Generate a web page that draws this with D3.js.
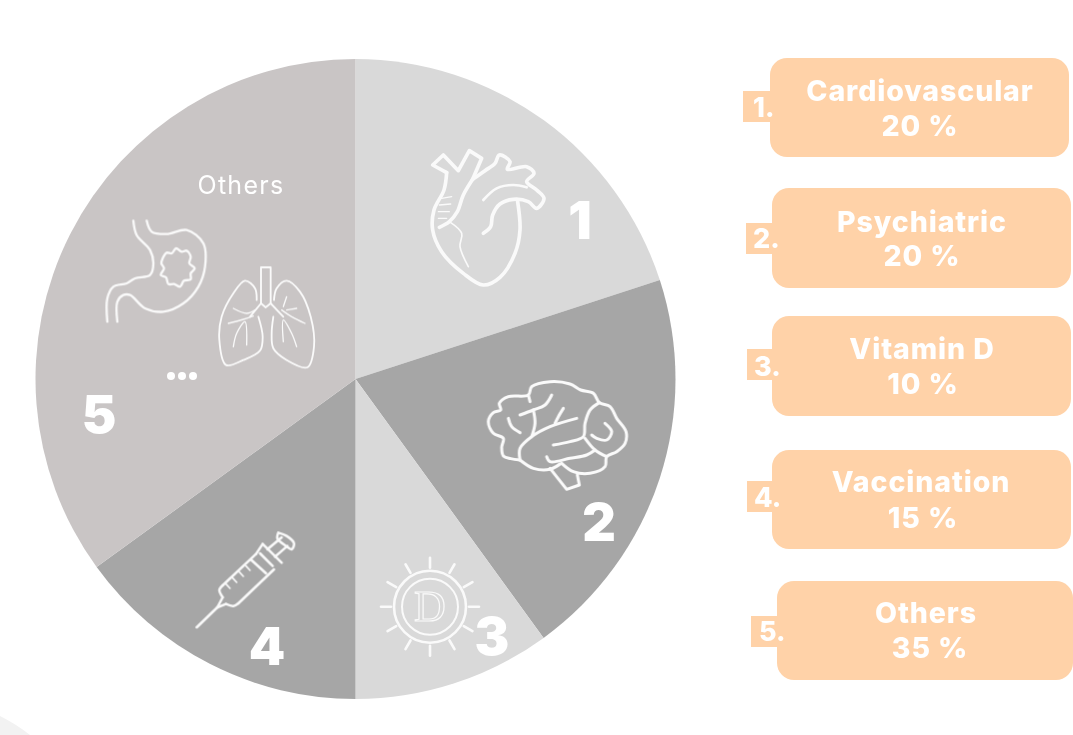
<!DOCTYPE html>
<html><head><meta charset="utf-8">
<script src="https://cdn.jsdelivr.net/npm/d3@7/dist/d3.min.js"></script>
<style>html,body{margin:0;padding:0;background:#fff;overflow:hidden}svg{display:block}</style>
</head><body><svg id="c" width="1073" height="735"></svg>
<script>
const categories = ["Cardiovascular","Psychiatric","Vitamin D","Vaccination","Others"];
const values = [20,20,10,15,35];
const sliceNumbers = ["1","2","3","4","5"];

const W=1073,H=735, cx=355.5, cy=379, R=320;
const svg=d3.select("#c");
const SANS="Inter, 'Open Sans', sans-serif";
const sliceColors=["#d9d9d9","#a6a6a6","#d9d9d9","#a6a6a6","#c9c5c5"];
const peach="#ffd2a8";

svg.append("defs").append("filter").attr("id","soft")
  .attr("x","-5%").attr("y","-5%").attr("width","110%").attr("height","110%")
  .append("feGaussianBlur").attr("stdDeviation",0.45);

// faint corner shape
svg.append("path").attr("d","M0,716 Q16,724 30,735 L0,735 Z").attr("fill","#f2f2f2");

// pie
const pie=d3.pie().sort(null).value(d=>d)(values);
const arc=d3.arc().innerRadius(0).outerRadius(R);
const g=svg.append("g").attr("transform",`translate(${cx},${cy})`);
g.selectAll("path").data(pie).join("path").attr("d",arc).attr("fill",(d,i)=>sliceColors[i]);

// icons: hand traced outlines, in the pixel frame of a 3x crop
const smooth=d3.line().curve(d3.curveCatmullRom.alpha(0.5));
const straight=d3.line();
const iconLayer=svg.append("g").attr("filter","url(#soft)");
function icon(ox,oy,sw,col,parts){
  const ic=iconLayer.append("g").attr("transform",`translate(${ox},${oy}) scale(${1/3})`)
    .attr("fill","none").attr("stroke",col).attr("stroke-width",sw)
    .attr("stroke-linecap","round").attr("stroke-linejoin","round");
  parts.forEach(p=>{
    ic.append("path").attr("d",(p.s?straight:smooth)(p.p)).attr("stroke-width",p.w||sw);
  });
  return ic;
}
const white="#fafafa";
// heart
icon(400,130,11,white,[
 {p:[[140,128],[132,180],[102,240],[98,300],[125,365],[190,430],[250,465],[300,442],[345,370],[360,300],[353,215]]},
 {s:1,p:[[140,128],[98,105],[130,75],[175,122],[208,62],[245,85],[218,148]]},
 {p:[[218,148],[190,195],[172,245],[148,275],[118,292]]},
 {p:[[218,148],[255,122],[285,100],[298,75],[330,95],[322,118],[380,110],[402,130],[380,155],[410,180],[432,205],[410,235],[385,215],[340,208],[300,222],[278,255],[272,290],[250,310]]},
 {p:[[250,210],[290,175],[340,165],[380,172]],w:8},
 {p:[[148,275],[185,310],[180,350],[205,410]],w:5},
 {s:1,p:[[125,205],[155,200]],w:4},{s:1,p:[[118,225],[152,222]],w:4},{s:1,p:[[115,245],[148,245]],w:4},{s:1,p:[[115,265],[140,265]],w:4}
]);
// brain
icon(470,360,9,white,[
 {p:[[150,300],[122,296],[100,288],[95,262],[100,235],[70,220],[55,185],[70,158],[92,150],[88,130],[115,110],[175,105],[185,80],[240,65],[300,72],[332,90],[370,100],[388,128],[420,140],[440,175],[468,215],[465,250],[440,275],[410,290],[405,320],[360,340],[310,335],[275,310]]},
 {s:1,p:[[240,325],[290,388],[328,375],[322,345]]},
 {p:[[150,300],[190,325],[240,328],[270,312]]},
 {p:[[175,105],[180,125]]},
 {p:[[150,165],[190,150],[225,135],[245,105]]},
 {p:[[190,150],[195,190],[185,230]]},
 {p:[[115,175],[125,200],[150,218]]},
 {p:[[150,300],[150,265],[185,230],[240,200],[320,175]]},
 {p:[[255,190],[265,170],[280,145]]},
 {p:[[388,128],[360,150],[345,190],[340,230],[300,245],[250,255]]},
 {p:[[345,235],[375,270],[410,290]]},
 {p:[[230,290],[240,305],[300,295],[350,285],[375,270]]},
 {p:[[405,190],[425,215],[410,240],[380,235],[365,225]]}
]);
// syringe
icon(180,510,7.5,white,[
 {s:1,p:[[50,352],[112,292]]},
 {s:1,p:[[112,292],[128,262]]},{s:1,p:[[112,292],[138,282]]},
 {p:[[128,262],[118,240],[128,226]]},
 {s:1,p:[[128,226],[228,132]]},
 {p:[[138,282],[160,288],[175,280]]},
 {s:1,p:[[175,280],[282,178]]},
 {s:1,p:[[212,148],[258,190]]},
 {s:1,p:[[228,132],[248,102]]},{s:1,p:[[248,102],[305,158]]},
 {s:1,p:[[240,130],[278,168]]},
 {s:1,p:[[262,118],[305,82]]},{s:1,p:[[285,140],[322,108]]},
 {p:[[295,68],[320,78],[342,100],[335,118],[318,108],[292,85],[295,68]]},
 {s:1,p:[[138,222],[150,235]],w:5},{s:1,p:[[158,204],[170,217]],w:5},{s:1,p:[[178,186],[190,199]],w:5},{s:1,p:[[198,168],[210,181]],w:5}
]);
// sun with D
const sun=iconLayer.append("g").attr("transform","translate(430,606.7)").attr("fill","none").attr("stroke",white);
sun.append("circle").attr("r",36).attr("stroke-width",2.6);
sun.append("circle").attr("r",28).attr("stroke-width",2);
d3.range(12).forEach(i=>{
  const a=i*Math.PI/6;
  sun.append("line").attr("x1",39*Math.cos(a)).attr("y1",39*Math.sin(a))
    .attr("x2",49*Math.cos(a)).attr("y2",49*Math.sin(a)).attr("stroke-width",2.6).attr("stroke-linecap","round");
});
sun.append("text").attr("text-anchor","middle").attr("y",14.5).attr("font-family","'Liberation Serif',serif")
  .attr("font-size",44).attr("stroke-width",1.2).text("D");
// stomach
icon(70,160,7,white,[
 {p:[[190,182],[200,225],[240,270],[250,310],[240,345],[195,355],[170,370],[130,380],[112,415],[112,485]]},
 {p:[[230,182],[245,215],[290,222],[350,210],[400,250],[405,320],[385,380],[340,430],[280,455],[225,445],[180,405],[160,405],[142,425],[142,485]]},
 {p:[[278,295],[290,278],[305,280],[318,265],[335,275],[350,272],[362,290],[358,310],[374,325],[362,340],[362,358],[342,362],[330,380],[312,372],[295,372],[288,352],[272,345],[282,325],[274,310],[278,295]]}
]);
// lungs
icon(70,160,5.5,white,[
 {s:1,p:[[573,430],[573,322],[602,322],[602,430]]},
 {p:[[560,420],[555,385],[525,362],[490,400],[455,470],[448,540],[468,615],[520,600],[570,572],[578,530],[565,470]]},
 {p:[[612,420],[620,385],[650,362],[690,395],[722,470],[732,560],[712,622],[650,600],[610,565],[605,520],[610,470]]},
 {s:1,p:[[540,470],[573,430],[587,442],[602,430],[640,470]]},
 {p:[[490,445],[530,460],[555,450]],w:4},
 {p:[[475,490],[520,478],[550,468]],w:4},
 {p:[[490,560],[500,520],[525,485],[530,555]],w:4},
 {p:[[705,490],[665,470],[635,450]],w:4},
 {p:[[640,440],[650,410]],w:4},
 {p:[[680,445],[650,450]],w:4},
 {p:[[680,560],[665,520],[640,480],[640,545]],w:4}
]);
// dots
const dotXs=[171,182,193];
svg.append("g").selectAll("circle").data(dotXs).join("circle")
  .attr("cx",d=>d).attr("cy",376).attr("r",4).attr("fill","#fff");

// "Others" caption
svg.append("text").attr("x",241).attr("y",194).attr("text-anchor","middle")
  .attr("font-family",SANS).attr("font-size",25).attr("letter-spacing",1.3).attr("fill","#fff").text("Others");

// big slice numbers
const numPos=[[580,239],[599,541],[492,655],[267,665],[99,433]];
svg.append("g").selectAll("text").data(sliceNumbers).join("text")
  .attr("x",(d,i)=>numPos[i][0]).attr("y",(d,i)=>numPos[i][1])
  .attr("text-anchor","middle").attr("font-family",SANS).attr("font-weight",900)
  .attr("font-size",52).attr("fill","#fff").text(d=>d);

// legend
const boxes=[
 {x:770,y:58,w:299,h:99,tx:920,tx2:920,y1:101,y2:136,nx:743,ny:91,lx:753,ty:117},
 {x:772,y:188,w:299,h:100,tx:922,tx2:922,y1:232,y2:266,nx:746,ny:223,lx:753,ty:248},
 {x:772,y:316,w:299,h:100,tx:922,tx2:923,y1:359,y2:394,nx:747,ny:349,lx:754,ty:376},
 {x:772,y:450,w:299,h:99,tx:921,tx2:923,y1:492,y2:528,nx:747,ny:481,lx:754,ty:507},
 {x:777,y:581,w:296,h:99,tx:926,tx2:930,y1:623,y2:658,nx:751,ny:616,lx:759,ty:641}
];
const leg=svg.append("g").selectAll("g").data(categories).join("g");
leg.append("rect").attr("x",(d,i)=>boxes[i].nx).attr("y",(d,i)=>boxes[i].ny)
  .attr("width",(d,i)=>boxes[i].x-boxes[i].nx+5).attr("height",31).attr("fill",peach);
leg.append("rect").attr("x",(d,i)=>boxes[i].x).attr("y",(d,i)=>boxes[i].y)
  .attr("width",(d,i)=>boxes[i].w).attr("height",(d,i)=>boxes[i].h).attr("rx",17).attr("fill",peach);
const T=sel=>sel.attr("font-family",SANS).attr("font-weight",800).attr("fill","#fff");
leg.append("text").call(T).attr("x",(d,i)=>boxes[i].lx).attr("y",(d,i)=>boxes[i].ty)
  .attr("font-size",27).text((d,i)=>sliceNumbers[i]+".");
leg.append("text").call(T).attr("x",(d,i)=>boxes[i].tx).attr("y",(d,i)=>boxes[i].y1)
  .attr("text-anchor","middle").attr("font-size",28.5).attr("letter-spacing",0.9).text(d=>d);
leg.append("text").call(T).attr("x",(d,i)=>boxes[i].tx2).attr("y",(d,i)=>boxes[i].y2)
  .attr("text-anchor","middle").attr("font-size",28.5).attr("letter-spacing",0.9).text((d,i)=>values[i]+" %");
</script></body></html>
